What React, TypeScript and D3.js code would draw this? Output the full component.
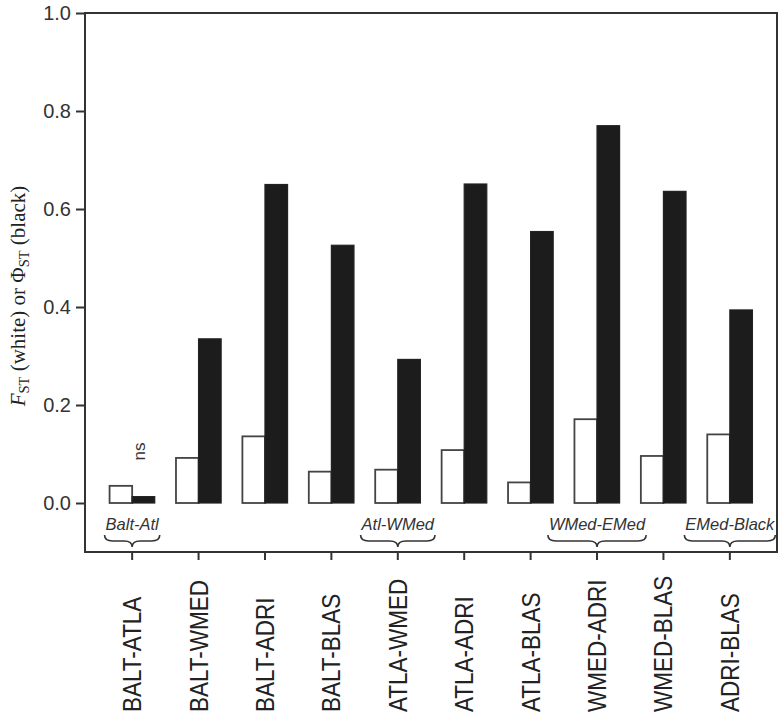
import React, { useRef, useEffect } from "react";
import * as d3 from "d3";

const categories = ["BALT-ATLA", "BALT-WMED", "BALT-ADRI", "BALT-BLAS", "ATLA-WMED", "ATLA-ADRI", "ATLA-BLAS", "WMED-ADRI", "WMED-BLAS", "ADRI-BLAS"];
const fstValues = [0.035, 0.092, 0.136, 0.064, 0.068, 0.108, 0.042, 0.171, 0.096, 0.140];
const phistValues = [0.013, 0.335, 0.650, 0.526, 0.293, 0.651, 0.554, 0.770, 0.636, 0.394];
const yTicks = [0, 0.2, 0.4, 0.6, 0.8, 1.0];
const groupLabels = ["Balt-Atl", "Atl-WMed", "WMed-EMed", "EMed-Black"];
const groupCategories = ["BALT-ATLA", "ATLA-WMED", "WMED-ADRI", "ADRI-BLAS"];
const nsCategories = ["BALT-ATLA"];

const W = 779, H = 712;
const M = { left: 85, right: 2, top: 13, bottom: 160 };
const INK = "#333";
const SANS = "'Liberation Sans', Arial, Helvetica, sans-serif";
const SERIF = "'Liberation Serif', 'Times New Roman', serif";

export default function App() {
  const ref = useRef<SVGSVGElement | null>(null);

  useEffect(() => {
    const svg = d3.select(ref.current);
    svg.selectAll("*").remove();

    const x = d3.scaleBand<string>().domain(categories).range([M.left, W - M.right]).paddingInner(0.32).paddingOuter(0.37);
    const y = d3.scaleLinear().domain([-0.1, 1.0]).range([H - M.bottom, M.top]);
    const y0 = H - M.bottom;
    const bw = x.bandwidth() / 2;
    const xc = (c: string) => (x(c) as number) + x.bandwidth() / 2;

    // bars
    const g = svg.append("g");
    g.selectAll("rect.fst").data(categories).join("rect")
      .attr("x", (c) => xc(c) - bw).attr("width", bw)
      .attr("y", (_, i) => y(fstValues[i])).attr("height", (_, i) => y(0) - y(fstValues[i]))
      .attr("fill", "#fff").attr("stroke", "#444").attr("stroke-width", 1.8);
    g.selectAll("rect.phi").data(categories).join("rect")
      .attr("x", (c) => xc(c)).attr("width", bw)
      .attr("y", (_, i) => y(phistValues[i])).attr("height", (_, i) => y(0) - y(phistValues[i]))
      .attr("fill", "#1c1c1c").attr("stroke", "#222").attr("stroke-width", 1.2);

    // frame
    svg.append("rect").attr("x", M.left).attr("y", M.top)
      .attr("width", W - M.right - M.left).attr("height", y0 - M.top)
      .attr("fill", "none").attr("stroke", INK).attr("stroke-width", 2);

    // y axis
    const ya = svg.append("g").attr("transform", `translate(${M.left},0)`)
      .call(d3.axisLeft(y).tickValues(yTicks).tickFormat(d3.format(".1f")).tickSize(9).tickPadding(5));
    ya.select(".domain").remove();
    ya.selectAll("line").attr("stroke", INK).attr("stroke-width", 2);
    ya.selectAll("text").attr("font-family", SANS).attr("font-size", 20).attr("fill", INK);

    // x axis
    const xa = svg.append("g").attr("transform", `translate(0,${y0})`)
      .call(d3.axisBottom(x).tickSize(8).tickFormat(() => ""));
    xa.select(".domain").remove();
    xa.selectAll("line").attr("stroke", INK).attr("stroke-width", 2);

    // x labels rotated
    svg.append("g").selectAll("text").data(categories).join("text")
      .attr("transform", (c) => `translate(${xc(c)},${H}) rotate(-90) scale(0.9,1)`)
      .attr("dy", "0.36em").attr("text-anchor", "start")
      .attr("font-family", SANS).attr("font-size", 25).attr("fill", "#222")
      .text((c) => c);

    // ns
    svg.append("g").selectAll("text").data(nsCategories).join("text")
      .attr("transform", (c) => `translate(${xc(c) + 8},${y(0.105)}) rotate(-90)`)
      .attr("dy", "0.3em").attr("text-anchor", "middle")
      .attr("font-family", SANS).attr("font-size", 17).attr("fill", INK)
      .text("ns");

    // group labels and braces
    const gg = svg.append("g");
    groupLabels.forEach((lab, i) => {
      const cx = xc(groupCategories[i]);
      const t = gg.append("text").attr("x", cx).attr("y", 530).attr("text-anchor", "middle")
        .attr("font-family", SANS).attr("font-style", "italic").attr("font-size", 16.5).attr("fill", INK)
        .text(lab);
      const tw = (t.node() as SVGTextElement).getComputedTextLength();
      const half = tw / 2 + 1;
      const x0 = cx - half, x1 = cx + half, top = 535, mid = 541, bot = 547, q = 8;
      const p = `M${x0},${top} Q${x0},${mid} ${x0 + q},${mid} L${cx - q},${mid} Q${cx},${mid} ${cx},${bot} Q${cx},${mid} ${cx + q},${mid} L${x1 - q},${mid} Q${x1},${mid} ${x1},${top}`;
      gg.append("path").attr("d", p).attr("fill", "none").attr("stroke", INK).attr("stroke-width", 1.6);
    });

    // y title
    const tt = svg.append("text").attr("transform", `translate(25,${296}) rotate(-90)`)
      .attr("text-anchor", "middle").attr("font-family", SERIF).attr("font-size", 21).attr("fill", "#222");
    tt.append("tspan").attr("font-style", "italic").text("F");
    tt.append("tspan").attr("font-size", 14.5).attr("dy", 4).text("ST");
    tt.append("tspan").attr("dy", -4).text(" (white) or \u03A6");
    tt.append("tspan").attr("font-size", 14.5).attr("dy", 4).text("ST");
    tt.append("tspan").attr("dy", -4).text(" (black)");
  }, []);

  return (
    <svg ref={ref} width={W} height={H} style={{ position: "absolute", left: 0, top: 0, background: "#fff" }} />
  );
}
